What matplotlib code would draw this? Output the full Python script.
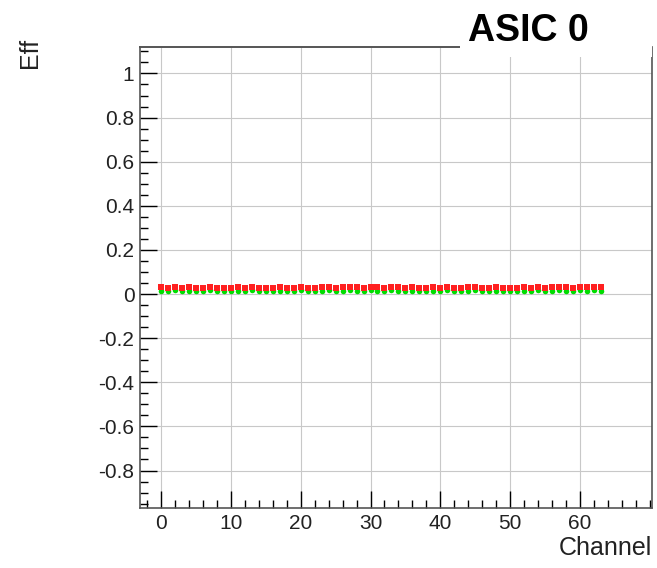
import matplotlib.pyplot as plt
from matplotlib.patches import Rectangle
from matplotlib.ticker import MultipleLocator

plt.rcParams['font.family'] = ['Liberation Sans', 'DejaVu Sans']

# channel numbers and efficiencies
channels = list(range(64))
eff_red = [0.030, 0.029, 0.031, 0.028, 0.030, 0.027, 0.029, 0.031, 0.028, 0.029,
           0.027, 0.030, 0.029, 0.031, 0.028, 0.027, 0.029, 0.030, 0.028, 0.029,
           0.031, 0.029, 0.028, 0.030, 0.031, 0.029, 0.030, 0.031, 0.030, 0.029,
           0.031, 0.030, 0.029, 0.031, 0.030, 0.028, 0.030, 0.029, 0.028, 0.030,
           0.029, 0.031, 0.028, 0.029, 0.030, 0.031, 0.028, 0.029, 0.030, 0.028,
           0.029, 0.028, 0.030, 0.029, 0.031, 0.028, 0.030, 0.031, 0.030, 0.029,
           0.031, 0.030, 0.031, 0.030]
eff_green = [0.016, 0.015, 0.017, 0.014, 0.016, 0.013, 0.015, 0.017, 0.014, 0.015,
             0.013, 0.016, 0.014, 0.017, 0.013, 0.012, 0.015, 0.016, 0.014, 0.015,
             0.017, 0.014, 0.013, 0.016, 0.017, 0.015, 0.016, 0.017, 0.016, 0.015,
             0.017, 0.016, 0.015, 0.017, 0.016, 0.014, 0.016, 0.015, 0.014, 0.016,
             0.015, 0.017, 0.013, 0.015, 0.016, 0.017, 0.014, 0.015, 0.016, 0.013,
             0.015, 0.014, 0.016, 0.015, 0.017, 0.013, 0.016, 0.017, 0.016, 0.015,
             0.017, 0.016, 0.017, 0.016]

fig = plt.figure(figsize=(6.57, 5.68), dpi=100)
ax = fig.add_axes([140/657, 1-508/568, 512/657, 461/568])

ax.plot(channels, eff_green, 'o', color='#00dd00', markersize=4, markeredgewidth=0)
ax.plot(channels, eff_red, 's', color='#ff2020', markersize=4, markeredgewidth=0)

ax.set_xlim(-3.0, 70.3)
ax.set_ylim(-0.97, 1.12)
ax.set_xticks([0, 10, 20, 30, 40, 50, 60])
ax.xaxis.set_minor_locator(MultipleLocator(2))
ax.yaxis.set_minor_locator(MultipleLocator(0.05))
ax.set_yticks([-0.8, -0.6, -0.4, -0.2, 0, 0.2, 0.4, 0.6, 0.8, 1])
ax.set_yticklabels(['-0.8', '-0.6', '-0.4', '-0.2', '0', '0.2', '0.4', '0.6', '0.8', '1'])
ax.tick_params(which='both', direction='in', top=False, right=False, labelsize=15,
               labelcolor='#222222')
ax.tick_params(which='major', length=12, width=1, pad=4)
ax.tick_params(which='minor', length=6, width=1)
ax.grid(True, which='major', color='#c8c8c8', linewidth=0.8)

for s in ax.spines.values():
    s.set_color('#555555')
    s.set_linewidth(1.2)
ax.spines['top'].set_visible(False)
ax.axhline(1.12, xmin=0, xmax=(460-140)/512, color='#555555', linewidth=1.4, clip_on=False)

# white title pave over the top of the frame
fig.add_artist(Rectangle((460/657, 1-57/568), 192/657, 50/568, transform=fig.transFigure,
                         facecolor='white', edgecolor='none', zorder=2))
fig.text(528/657, 1-31/568, 'ASIC 0', fontsize=27, fontweight='bold',
         ha='center', va='center', zorder=3)

fig.text(30/657, 1-38/568, 'Eff', fontsize=18, rotation=90, ha='center', va='top',
         color='#222222')
fig.text(652/657, 1-548/568, 'Channel', fontsize=18, ha='right', va='center',
         color='#222222')

fig.savefig('out.png', dpi=100)
